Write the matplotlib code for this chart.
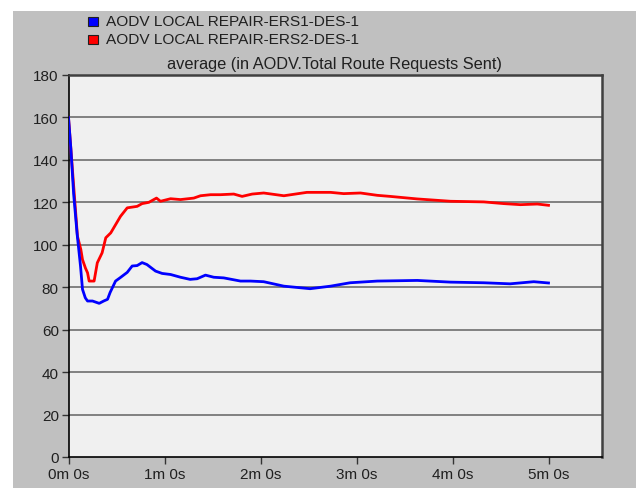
import matplotlib
matplotlib.use("Agg")
import matplotlib.pyplot as plt
from matplotlib.patches import Rectangle

plt.rcParams['font.family'] = ['Liberation Sans', 'DejaVu Sans']

# time in seconds
blue_t = [0, 1.5, 3.2, 5.4, 7.5, 8.75, 10.5, 11.9, 15, 19.2, 22, 24.4, 26, 29.4, 32.5, 36.7,
          39.8, 42.9, 46, 49, 54.4, 58.5, 63.8, 70, 76, 80.4, 85.6, 90.8, 97, 107.5,
          113.8, 122, 134.6, 151, 163.8, 176, 193, 218, 238.8, 259.6, 276, 290.8, 300]
blue_v = [160, 145, 124, 105, 90, 79, 75, 73.5, 73.5, 72.4, 73.5, 74.3, 77.5, 82.9, 84.6, 87,
          90, 90.2, 91.6, 90.7, 87.6, 86.5, 86, 84.7, 83.7, 84, 85.7, 84.7, 84.4, 82.9,
          82.9, 82.6, 80.5, 79.3, 80.5, 82.1, 82.9, 83.2, 82.4, 82.1, 81.6, 82.6, 82]

red_t = [0, 1.5, 3.6, 5.6, 7.7, 8.75, 10.6, 11.9, 12.9, 16, 18, 21, 23.3, 26.4, 32.5, 36.7,
         42.9, 46, 50.2, 55, 57.5, 63.8, 70, 78.3, 82.5, 88.8, 95, 103.3, 108.5, 114.8,
         122, 134.6, 149, 163.8, 172, 182.5, 193, 201, 218, 238.8, 259.6, 272, 282.5,
         293, 300]
red_v = [160, 145, 124, 104, 97.8, 93, 89, 86.8, 82.9, 82.9, 91.5, 96.2, 103.3, 105.6, 113.4,
         117.4, 118.1, 119.4, 120, 122, 120.5, 121.7, 121.3, 122, 123.1, 123.6, 123.6,
         123.9, 122.8, 123.9, 124.4, 123.1, 124.7, 124.7, 124.1, 124.4, 123.3, 122.8,
         121.6, 120.5, 120.2, 119.4, 118.9, 119.2, 118.6]

series_names = ["AODV LOCAL REPAIR-ERS1-DES-1", "AODV LOCAL REPAIR-ERS2-DES-1"]
series_colors = ["#0000ff", "#ff0000"]
title = "average (in AODV.Total Route Requests Sent)"
x_ticks = [0, 60, 120, 180, 240, 300]
x_labels = ["0m 0s", "1m 0s", "2m 0s", "3m 0s", "4m 0s", "5m 0s"]
y_ticks = [0, 20, 40, 60, 80, 100, 120, 140, 160, 180]

W, H = 639, 489
fig = plt.figure(figsize=(W / 100, H / 100), dpi=100)
fig.patch.set_facecolor("white")
# gray panel
fig.patches.append(Rectangle((13 / W, 0), (636 - 13) / W, (H - 12) / H,
                             transform=fig.transFigure, facecolor="#c0c0c0",
                             edgecolor="none", zorder=-5))

ax = fig.add_axes([68.5 / W, (H - 458) / H, (602 - 68.5) / W, (458 - 76) / H])
ax.set_zorder(2)
ax.set_facecolor("#f0f0f0")
ax.set_xlim(0, (602 - 68.5) / 96 * 60)
ax.set_ylim(0, 180)

for y in y_ticks[1:-1]:
    ax.axhline(y, color="#808080", lw=1.4, zorder=1)

ax.plot(red_t, red_v, color=series_colors[1], lw=2.0, zorder=3, solid_joinstyle="round")
ax.plot(blue_t, blue_v, color=series_colors[0], lw=2.0, zorder=4, solid_joinstyle="round")

ax.set_xticks(x_ticks)
ax.set_xticklabels(x_labels)
ax.set_yticks(y_ticks)
ax.tick_params(direction="out", length=5, width=1, color="#333333",
               labelsize=11, labelcolor="#202020", pad=2)
for s in ["left", "bottom"]:
    ax.spines[s].set_color("black")
    ax.spines[s].set_linewidth(1.2)
for s in ["right", "top"]:
    ax.spines[s].set_color("#404040")
    ax.spines[s].set_linewidth(1.8)

fig.text(334 / W, 1 - 65 / H, title, ha="center", va="center", fontsize=11.8, color="#202020")

# legend
for i, (name, c) in enumerate(zip(series_names, series_colors)):
    yc = 22 + i * 18
    fig.patches.append(Rectangle((88 / W, 1 - (yc + 4.5) / H), 10 / W, 9 / H,
                                 transform=fig.transFigure, facecolor=c,
                                 edgecolor="#202020", lw=0.8, zorder=2))
    fig.text(106 / W, 1 - yc / H, name, ha="left", va="center", fontsize=11.1, color="#202020")

fig.savefig("out.png", dpi=100)
